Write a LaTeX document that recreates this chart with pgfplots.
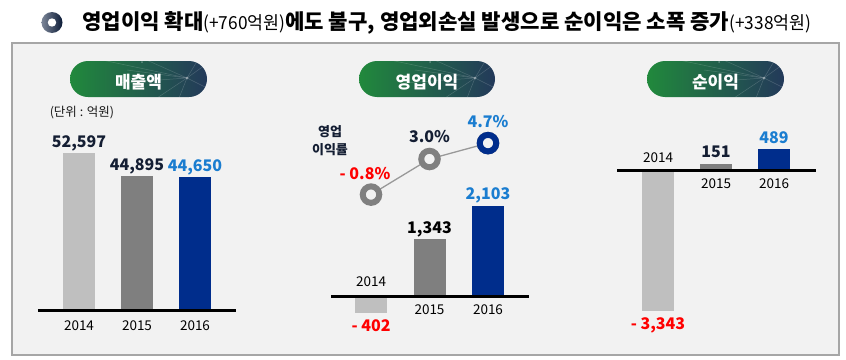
\documentclass[border=0pt]{standalone}
\usepackage{fontspec}
\setmainfont{Noto Sans CJK KR}
\usepackage{graphicx}
\usepackage{pgfplots}
\pgfplotsset{compat=1.18}
\definecolor{bgbox}{HTML}{F2F2F2}
\definecolor{boxline}{HTML}{A6A6A6}
\definecolor{lgray}{HTML}{BFBFBF}
\definecolor{mgray}{HTML}{7F7F7F}
\definecolor{navy}{HTML}{002D8C}
\definecolor{lblue}{HTML}{1A7DD0}
\definecolor{dark}{HTML}{141E33}
\definecolor{pgreen}{HTML}{21893C}
\definecolor{pmid}{HTML}{113A50}
\definecolor{pnavy}{HTML}{23395A}
\definecolor{ringgray}{HTML}{808080}
\definecolor{linegray}{HTML}{999999}
\definecolor{mred}{HTML}{FF0000}
\definecolor{iconl}{HTML}{7C8698}
\definecolor{iconm}{HTML}{223452}
\definecolor{iconr}{HTML}{0B1A36}
\newcommand\valfont{\fontsize{16}{16}\bfseries\selectfont}
\newcommand\yrfont{\fontsize{13.5}{13.5}\selectfont}
\newcommand\pilltext{\fontsize{17}{17}\bfseries\selectfont}
\newcommand\paren[1]{{\fontsize{18}{18}\mdseries\selectfont\scalebox{0.96}[1]{#1}}}
\newcommand{\pill}[3]{%
  \pgfmathsetmacro\pxm{(#1+#2)/2}%
  \pgfmathsetmacro\hub{#2-20}%
  \begin{scope}
    \clip[rounded corners=18pt] (#1,-61) rectangle (#2,-97);
    \shade[left color=pgreen, middle color=pmid, right color=pnavy] (#1,-61) rectangle (#2,-97);
    \foreach \dx/\dy in {-60/8, -45/20, 25/18, 30/-15, -10/-25, -70/-5, 15/25, -30/-20, -85/18}
      \draw[white, opacity=0.18, line width=0.5pt] (\hub,-78) -- ++(\dx,\dy);
    \fill[white, opacity=0.35] (\hub,-78) circle (1.5);
    \fill[white, opacity=0.3] (\hub-45,-62) circle (1);
  \end{scope}
  \node[anchor=base, text=white, font=\pilltext, inner sep=0] at (\pxm,-88) {#3};
}
\begin{document}
\begin{tikzpicture}[x=1pt,y=1pt]
\path[use as bounding box, fill=white] (0,0) rectangle (846,-359);
\draw[boxline, line width=1.3pt, fill=bgbox] (12,-43) rectangle (839,-355);
% title icon
\shade[left color=iconl, middle color=iconm, right color=iconr] (52,-22.5) circle (10.5);
\fill[white] (52,-22.5) circle (4.2);
\node[anchor=base west, inner sep=0] at (82,-29.5) {\fontsize{21.1}{21.1}\bfseries\selectfont 영업이익 확대\paren{(+760억원)}에도 불구, 영업외손실 발생으로 순이익은 소폭 증가\paren{(+338억원)}};
% pills
\pill{70}{207}{매출액}
\pill{359}{495}{영업이익}
\pill{647}{784}{순이익}
\node[anchor=base, inner sep=0, font=\fontsize{12.5}{12.5}\selectfont, text=black!90] at (82,-116) {(단위 : 억원)};
\node[anchor=base, inner sep=0, font=\fontsize{13}{13}\bfseries\selectfont, text=dark] at (330,-136) {영업};
\node[anchor=base, inner sep=0, font=\fontsize{13}{13}\bfseries\selectfont, text=dark] at (330,-154) {이익률};

% Panel 1: sales
\begin{axis}[at={(38pt,-310pt)}, anchor=south west, scale only axis, width=198pt, height=179.4pt,
  xmin=-0.7069, xmax=2.7069, ymin=0, ymax=60000, hide axis, clip=false, ybar, bar width=32pt]
\addplot[fill=lgray, draw=none, bar shift=0pt] coordinates {(0,52597)};
\addplot[fill=mgray, draw=none, bar shift=0pt] coordinates {(1,44895)};
\addplot[fill=navy, draw=none, bar shift=0pt] coordinates {(2,44650)};
\draw[line width=3pt] (axis cs:-0.7069,0) -- (axis cs:2.7069,0);
\node[anchor=base, inner sep=0, font=\valfont, text=dark, yshift=5pt] at (axis cs:0,52597) {52,597};
\node[anchor=base, inner sep=0, font=\valfont, text=dark, yshift=5pt] at (axis cs:1,44895) {44,895};
\node[anchor=base, inner sep=0, font=\valfont, text=lblue, yshift=5pt] at (axis cs:2,44650) {44,650};
\node[anchor=base, inner sep=0, font=\yrfont, yshift=-20pt] at (axis cs:0,0) {2014};
\node[anchor=base, inner sep=0, font=\yrfont, yshift=-20pt] at (axis cs:1,0) {2015};
\node[anchor=base, inner sep=0, font=\yrfont, yshift=-20pt] at (axis cs:2,0) {2016};
\end{axis}

% Panel 2: operating profit
\begin{axis}[at={(331pt,-338.8pt)}, anchor=south west, scale only axis, width=198pt, height=171.2pt,
  xmin=-0.684, xmax=2.701, ymin=-1000, ymax=3000, hide axis, clip=false, ybar, bar width=32pt]
\addplot[fill=lgray, draw=none, bar shift=0pt] coordinates {(0,-402)};
\addplot[fill=mgray, draw=none, bar shift=0pt] coordinates {(1,1343)};
\addplot[fill=navy, draw=none, bar shift=0pt] coordinates {(2,2103)};
\draw[line width=3pt] (axis cs:-0.684,0) -- (axis cs:2.701,0);
\node[anchor=base, inner sep=0, font=\valfont, text=mred, yshift=-18pt] at (axis cs:0,-402) {- 402};
\node[anchor=base, inner sep=0, font=\valfont, text=black, yshift=5pt] at (axis cs:1,1343) {1,343};
\node[anchor=base, inner sep=0, font=\valfont, text=lblue, yshift=6pt] at (axis cs:2,2103) {2,103};
\node[anchor=base, inner sep=0, font=\yrfont, yshift=10pt] at (axis cs:0,0) {2014};
\node[anchor=base, inner sep=0, font=\yrfont, yshift=-18pt] at (axis cs:1,0) {2015};
\node[anchor=base, inner sep=0, font=\yrfont, yshift=-18pt] at (axis cs:2,0) {2016};
\end{axis}

% Panel 2: operating margin line
\begin{axis}[at={(331pt,-200pt)}, anchor=south west, scale only axis, width=198pt, height=60pt,
  xmin=-0.684, xmax=2.701, ymin=-1.378, ymax=5.032, hide axis, clip=false]
\addplot[color=linegray, line width=1.3pt, mark=*, mark size=8.25pt,
  mark options={draw=ringgray, fill=bgbox, line width=6pt, solid}] coordinates {(0,-0.8) (1,3.0) (2,4.7)};
\addplot[only marks, mark=*, mark size=8.25pt,
  mark options={draw=navy, fill=bgbox, line width=6pt, solid}] coordinates {(2,4.7)};
\node[anchor=base, inner sep=0, font=\valfont, text=mred, yshift=15pt, xshift=-6pt] at (axis cs:0,-0.8) {- 0.8\%};
\node[anchor=base, inner sep=0, font=\valfont, text=dark, yshift=17pt] at (axis cs:1,3.0) {3.0\%};
\node[anchor=base, inner sep=0, font=\valfont, text=lblue, yshift=15.5pt] at (axis cs:2,4.7) {4.7\%};
\end{axis}

% Panel 3: net income
\begin{axis}[at={(617pt,-321.85pt)}, anchor=south west, scale only axis, width=199pt, height=185.6pt,
  xmin=-0.7069, xmax=2.724, ymin=-3600, ymax=800, hide axis, clip=false, ybar, bar width=32pt]
\addplot[fill=lgray, draw=none, bar shift=0pt] coordinates {(0,-3343)};
\addplot[fill=mgray, draw=none, bar shift=0pt] coordinates {(1,151)};
\addplot[fill=navy, draw=none, bar shift=0pt] coordinates {(2,489)};
\draw[line width=3pt] (axis cs:-0.7069,0) -- (axis cs:2.724,0);
\node[anchor=base, inner sep=0, font=\valfont, text=mred, yshift=-18pt] at (axis cs:0,-3343) {- 3,343};
\node[anchor=base, inner sep=0, font=\valfont, text=dark, yshift=6pt] at (axis cs:1,151) {151};
\node[anchor=base, inner sep=0, font=\valfont, text=lblue, yshift=6pt] at (axis cs:2,489) {489};
\node[anchor=base, inner sep=0, font=\yrfont, yshift=7pt] at (axis cs:0,0) {2014};
\node[anchor=base, inner sep=0, font=\yrfont, yshift=-18pt] at (axis cs:1,0) {2015};
\node[anchor=base, inner sep=0, font=\yrfont, yshift=-18pt] at (axis cs:2,0) {2016};
\end{axis}
\end{tikzpicture}
\end{document}
